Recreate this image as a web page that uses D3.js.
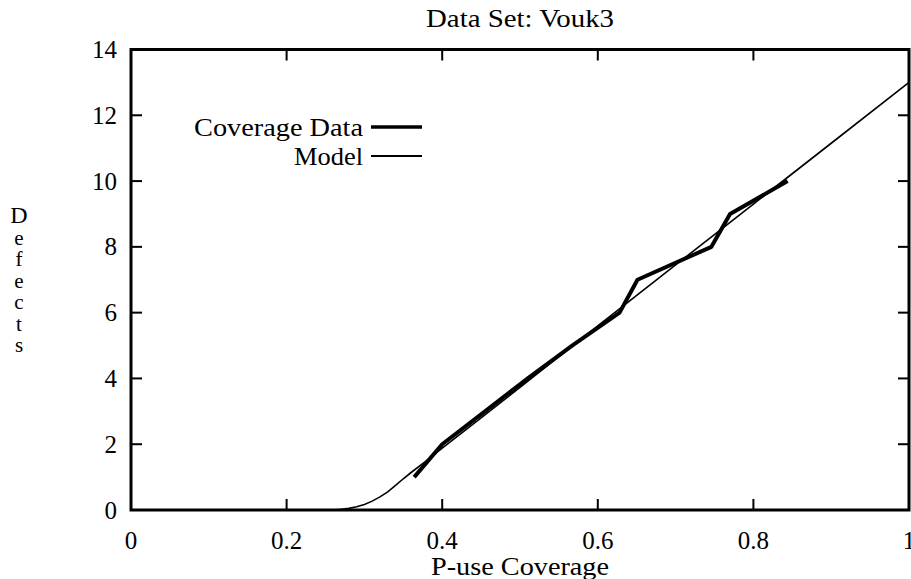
<!DOCTYPE html>
<html><head><meta charset="utf-8">
<script src="https://cdn.jsdelivr.net/npm/d3@7"></script>
<style>body{margin:0;background:#fff}svg{display:block}text{font-family:"Liberation Serif","DejaVu Serif",serif;fill:#000}</style>
</head><body><svg id="c" width="911" height="579"></svg>
<script>
const title = "Data Set:  Vouk3";
const xLabel = "P-use Coverage";
const yLabel = "Defects";
const xTicks = [0, 0.2, 0.4, 0.6, 0.8, 1];
const xTickLabels = ["0", "0.2", "0.4", "0.6", "0.8", "1"];
const yTicks = [0, 2, 4, 6, 8, 10, 12, 14];
const dataCoverage = [0.364, 0.40, 0.455, 0.51, 0.567, 0.628, 0.651, 0.746, 0.770, 0.844];
const dataDefects = [1, 2, 3, 4, 5, 6, 7, 8, 9, 10];
const modelCoverage = [0.26, 0.27, 0.28, 0.29, 0.30, 0.31, 0.32, 0.33, 0.34, 0.35, 0.36, 0.38, 0.40, 0.45, 0.5, 0.6, 0.7, 0.8, 0.9, 1.0];
const modelDefects = [0, 0.02, 0.05, 0.1, 0.17, 0.27, 0.4, 0.55, 0.75, 0.95, 1.14, 1.5, 1.88, 2.8, 3.73, 5.6, 7.45, 9.3, 11.15, 13.0];
const legendNames = ["Coverage Data", "Model"];

const svg = d3.select("#c");
const L = 131, R = 909, T = 49.5, B = 510;
const FS = 25;
const x = d3.scaleLinear().domain([0, 1]).range([L, R]);
const y = d3.scaleLinear().domain([0, 14]).range([B, T]);

// ticks (inside, all four sides)
const tl = 11;
const ax = svg.append("g").attr("stroke", "#000").attr("stroke-width", 2);
xTicks.forEach(v => {
  ax.append("line").attr("x1", x(v)).attr("x2", x(v)).attr("y1", B).attr("y2", B - tl);
  ax.append("line").attr("x1", x(v)).attr("x2", x(v)).attr("y1", T).attr("y2", T + tl);
});
yTicks.forEach(v => {
  ax.append("line").attr("x1", L).attr("x2", L + tl).attr("y1", y(v)).attr("y2", y(v));
  ax.append("line").attr("x1", R).attr("x2", R - tl).attr("y1", y(v)).attr("y2", y(v));
});
svg.append("rect").attr("x", L).attr("y", T).attr("width", R - L).attr("height", B - T)
  .attr("fill", "none").attr("stroke", "#000").attr("stroke-width", 3);

// tick labels
svg.append("g").selectAll("text").data(xTicks).join("text")
  .attr("x", d => x(d)).attr("y", 549).attr("text-anchor", "middle")
  .attr("font-size", FS).text((d, i) => xTickLabels[i]);
svg.append("g").selectAll("text").data(yTicks).join("text")
  .attr("x", 117).attr("y", d => y(d) + 8.5).attr("text-anchor", "end")
  .attr("font-size", FS).text(d => d);

// titles
svg.append("text").attr("x", 426).attr("y", 27).attr("font-size", FS)
  .attr("textLength", 188).attr("lengthAdjust", "spacingAndGlyphs").text(title);
svg.append("text").attr("x", 431).attr("y", 575).attr("font-size", FS)
  .attr("textLength", 178).attr("lengthAdjust", "spacingAndGlyphs").text(xLabel);
const yl = svg.append("text").attr("text-anchor", "middle").attr("font-size", 21);
yLabel.split("").forEach((ch, i) => {
  yl.append("tspan").attr("x", 19).attr("y", 223 + i * 21.5).attr("font-size", i === 0 ? 24 : 21).text(ch);
});

// lines
const line = d3.line().x(d => x(d[0])).y(d => y(d[1]));
svg.append("path").datum(modelCoverage.map((c, i) => [c, modelDefects[i]]))
  .attr("d", line).attr("fill", "none").attr("stroke", "#000").attr("stroke-width", 1.6);
svg.append("path").datum(dataCoverage.map((c, i) => [c, dataDefects[i]]))
  .attr("d", line).attr("fill", "none").attr("stroke", "#000").attr("stroke-width", 4).attr("stroke-linejoin", "round");

// legend
const ly = [127, 156], lw = [3.5, 2], lx0 = [194, 294];
legendNames.forEach((n, i) => {
  svg.append("text").attr("x", lx0[i]).attr("y", ly[i] + 8.5).attr("font-size", FS)
    .attr("textLength", 363 - lx0[i]).attr("lengthAdjust", "spacingAndGlyphs").text(n);
  svg.append("line").attr("x1", 371).attr("x2", 422).attr("y1", ly[i]).attr("y2", ly[i])
    .attr("stroke", "#000").attr("stroke-width", lw[i]);
});
</script></body></html>
